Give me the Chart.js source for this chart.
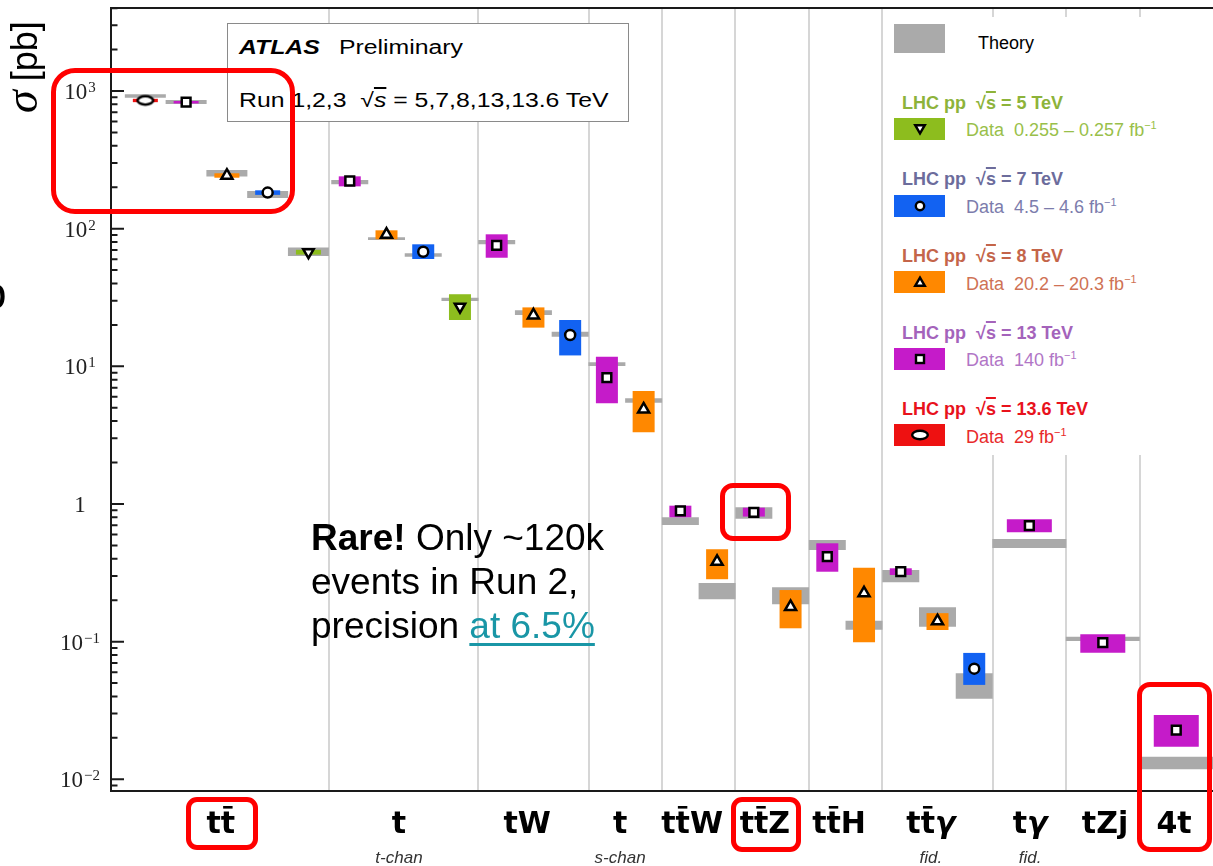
<!DOCTYPE html>
<html>
<head>
<meta charset="utf-8">
<title>ATLAS top-quark cross sections</title>
<script src="https://cdn.jsdelivr.net/npm/chart.js@4.4.1/dist/chart.umd.min.js"></script>
<style>
html,body{margin:0;padding:0;background:#fff;}
body{width:1213px;height:866px;overflow:hidden;position:relative;font-family:"Liberation Sans",Arial,sans-serif;color:#000;}
#chart{position:absolute;left:0;top:0;}
.a{position:absolute;white-space:nowrap;}
.ov{text-decoration:overline;text-decoration-thickness:1.5px;}
.atlasbox{left:227px;top:23px;width:402px;height:99px;box-sizing:border-box;border:1.5px solid #8a8a8a;background:#fff;}
.atl{font-size:20px;line-height:20px;transform:scaleX(1.24);transform-origin:0 0;}
.legend{left:883px;top:17px;width:330px;height:438px;background:#fff;}
.sw{width:51px;height:22px;}
.lh{font-size:18px;line-height:18px;font-weight:bold;}
.ld{font-size:18px;line-height:18px;}
.ld sup{font-size:11px;vertical-align:7px;line-height:0;}
.rbox{border:5px solid #f00;box-sizing:border-box;}
.note{left:311px;top:516px;font-size:37px;line-height:44px;}
.teal{color:#1996a6;text-decoration:underline;text-decoration-thickness:3px;text-underline-offset:5px;}
</style>
</head>
<body>
<canvas id="chart" width="1213" height="866"></canvas>

<!-- y axis title -->
<div class="a" style="left:3px;top:113px;transform:rotate(-90deg);transform-origin:0 0;font-size:36px;line-height:44px;"><span style="font-family:'Liberation Serif',serif;font-style:italic;font-size:46px;line-height:0;">σ</span><span style="margin-left:9px;">[pb]</span></div>
<div class="a" style="left:-19px;top:270px;font-size:46px;line-height:46px;">o</div>

<!-- ATLAS label box -->
<div class="a atlasbox"></div>
<div class="a atl" style="left:239px;top:37px;"><b><i>ATLAS</i></b></div>
<div class="a atl" style="left:339px;top:37px;">Preliminary</div>
<div class="a atl" style="left:239px;top:90px;">Run 1,2,3&nbsp;&nbsp;√<i class="ov">s</i> = 5,7,8,13,13.6 TeV</div>

<!-- legend -->
<div class="a legend"></div>
<div class="a" style="left:894px;top:24px;width:51px;height:29px;background:#aaaaaa;"></div>
<div class="a ld" style="left:978px;top:34px;">Theory</div>

<div class="a lh" style="left:902px;top:94px;color:#8db33a;">LHC pp&nbsp;&nbsp;√<span class="ov">s</span> = 5 TeV</div>
<div class="a sw" style="left:894px;top:118px;background:#8dbd1e;"></div>
<svg class="a" style="left:913px;top:122px" width="14" height="14"><polygon points="2.2,3.2 11.8,3.2 7,11.4" fill="#fff" stroke="#000" stroke-width="2.4"/></svg>
<div class="a ld" style="left:966px;top:121px;color:#99bf4a;">Data&nbsp;&nbsp;0.255 – 0.257 fb<sup>−1</sup></div>

<div class="a lh" style="left:902px;top:170px;color:#6c6c9c;">LHC pp&nbsp;&nbsp;√<span class="ov">s</span> = 7 TeV</div>
<div class="a sw" style="left:894px;top:195px;background:#1262f2;"></div>
<svg class="a" style="left:913px;top:199px" width="14" height="14"><circle cx="7" cy="7" r="4.2" fill="#fff" stroke="#000" stroke-width="2.4"/></svg>
<div class="a ld" style="left:966px;top:198px;color:#7c7cac;">Data&nbsp;&nbsp;4.5 – 4.6 fb<sup>−1</sup></div>

<div class="a lh" style="left:902px;top:247px;color:#c4654a;">LHC pp&nbsp;&nbsp;√<span class="ov">s</span> = 8 TeV</div>
<div class="a sw" style="left:894px;top:271px;background:#ff8800;"></div>
<svg class="a" style="left:913px;top:275px" width="14" height="14"><polygon points="7,2.6 11.8,10.8 2.2,10.8" fill="#fff" stroke="#000" stroke-width="2.4"/></svg>
<div class="a ld" style="left:966px;top:275px;color:#cf7255;">Data&nbsp;&nbsp;20.2 – 20.3 fb<sup>−1</sup></div>

<div class="a lh" style="left:902px;top:324px;color:#a463bb;">LHC pp&nbsp;&nbsp;√<span class="ov">s</span> = 13 TeV</div>
<div class="a sw" style="left:894px;top:348px;background:#c51bc9;"></div>
<svg class="a" style="left:913px;top:352px" width="14" height="14"><rect x="3" y="3" width="8" height="8" fill="#fff" stroke="#000" stroke-width="2.4"/></svg>
<div class="a ld" style="left:966px;top:351px;color:#b176c6;">Data&nbsp;&nbsp;140 fb<sup>−1</sup></div>

<div class="a lh" style="left:902px;top:400px;color:#e8121c;">LHC pp&nbsp;&nbsp;√<span class="ov">s</span> = 13.6 TeV</div>
<div class="a sw" style="left:894px;top:424px;background:#ee1111;"></div>
<svg class="a" style="left:909px;top:428px" width="22" height="14"><ellipse cx="11" cy="7" rx="7.8" ry="4.3" fill="#fff" stroke="#000" stroke-width="2.4"/></svg>
<div class="a ld" style="left:966px;top:428px;color:#e82a2a;">Data&nbsp;&nbsp;29 fb<sup>−1</sup></div>

<!-- annotation text -->
<div class="a note"><b>Rare!</b> Only ~120k<br>events in Run 2,<br>precision <span class="teal">at 6.5%</span></div>

<!-- red highlight boxes -->
<div class="a rbox" style="left:51px;top:68px;width:244px;height:146px;border-radius:24px;"></div>
<div class="a rbox" style="left:720px;top:483px;width:71px;height:58px;border-radius:13px;"></div>
<div class="a rbox" style="left:186px;top:797px;width:72px;height:53px;border-radius:11px;"></div>
<div class="a rbox" style="left:731px;top:797px;width:70px;height:55px;border-radius:11px;"></div>
<div class="a rbox" style="left:1137px;top:682px;width:75px;height:170px;border-radius:13px;"></div>

<script>
// ---------------- data ----------------
const groupNames = ['tt\u0304', 't', 'tW', 't', 'tt\u0304W', 'tt\u0304Z', 'tt\u0304H', 'tt\u0304γ', 'tγ', 'tZj', '4t'];
const groupSubs  = ['', 't-chan', '', 's-chan', '', '', '', 'fid.', 'fid.', '', ''];
const groupEdges = [0, 5.93, 10, 13, 15, 17, 19, 21, 24, 26, 28, 30];
const groupLabelAt = [2.99, 7.84, 11.33, 13.86, 15.82, 17.8, 19.82, 22.32, 25.02, 27.06, 28.94];

const yTickVals  = [0.01, 0.1, 1, 10, 100, 1000];
const yTickBase  = ['10', '10', '1', '10', '10', '10'];
const yTickExp   = ['−2', '−1', '', '1', '2', '3'];
const yRange = [0.00822, 4010];

// 13.6 TeV
const pos136  = [0.935];
const val136  = [855];
const lo136   = [830];
const hi136   = [878];
const thLo136 = [894];
const thHi136 = [946];
// 13 TeV: tt, t-chan, tW, s-chan, ttW, ttZ, ttH, tty, ty, tZj, 4t
const pos13  = [2.045, 6.5, 10.5, 13.5, 15.5, 17.5, 19.5, 21.5, 25, 27, 29];
const val13  = [829, 222, 75.7, 8.27, 0.89, 0.87, 0.414, 0.322, 0.695, 0.0983, 0.0228];
const lo13   = [812, 203, 61.5, 5.39, 0.80, 0.81, 0.322, 0.305, 0.623, 0.0831, 0.01725];
const hi13   = [846, 240, 91.0, 11.75, 0.972, 0.94, 0.518, 0.341, 0.774, 0.113, 0.0293];
const thLo13 = [805, 210, 77.0, 10.06, 0.704, 0.782, 0.463, 0.270, 0.479, 0.101, 0.01182];
const thHi13 = [860, 226, 82.7, 10.7, 0.80, 0.946, 0.548, 0.332, 0.557, 0.1086, 0.01459];
// 8 TeV: tt, t-chan, tW, s-chan, ttW, ttZ, ttH, tty
const pos8  = [3.155, 7.5, 11.5, 14.5, 16.5, 18.5, 20.5, 22.5];
const val8  = [242.9, 90.7, 23.5, 4.87, 0.381, 0.179, 0.225, 0.141];
const lo8   = [234.5, 83.7, 19.1, 3.32, 0.284, 0.125, 0.099, 0.1215];
const hi8   = [252.6, 97.3, 26.8, 6.62, 0.469, 0.237, 0.344, 0.161];
const thLo8 = [239, 82.7, 23.6, 5.44, 0.203, 0.187, 0.122, 0.128];
const thHi8 = [267, 86.5, 25.5, 5.86, 0.267, 0.248, 0.142, 0.178];
// 7 TeV: tt, t-chan, tW, tty
const pos7  = [4.265, 8.5, 12.5, 23.5];
const val7  = [182.9, 68.0, 16.9, 0.0636];
const lo7   = [176, 60.2, 12.0, 0.0485];
const hi7   = [190, 77.0, 21.7, 0.0828];
const thLo7 = [167, 62.6, 16.4, 0.0385];
const thHi7 = [188, 66.2, 17.8, 0.0589];
// 5 TeV: tt, t-chan
const pos5  = [5.375, 9.5];
const val5  = [67.5, 27.1];
const lo5   = [64.8, 21.7];
const hi5   = [70.2, 33.4];
const thLo5 = [63.4, 29.8];
const thHi5 = [73.0, 31.5];

// ---------------- styles ----------------
function ellipseMarker() {
  const c = document.createElement('canvas');
  c.width = 22; c.height = 14;
  const g = c.getContext('2d');
  g.beginPath(); g.ellipse(11, 7, 7.8, 4.2, 0, 0, Math.PI * 2);
  g.fillStyle = '#fff'; g.fill();
  g.lineWidth = 2.5; g.strokeStyle = '#000'; g.stroke();
  return c;
}
const seriesColors = ['#ee1111', '#c51bc9', '#ff8800', '#1262f2', '#8dbd1e'];
const markerStyles = [ellipseMarker(), 'rect', 'triangle', 'circle', 'triangle'];
const markerRadius = [7, 6.2, 6.4, 5, 6];
const markerRot    = [0, 0, 0, 0, 180];
const theoryPx = {tt: 41, std: 37, wide: 74};
const dataPx   = {tt: 25, std: 22, wide: 45};

function slotClass(x) {
  if (x < groupEdges[1]) return 'tt';
  if (x >= groupEdges[8]) return 'wide';
  return 'std';
}

const series = [
  {pos: pos136, val: val136, lo: lo136, hi: hi136, tl: thLo136, th: thHi136},
  {pos: pos13,  val: val13,  lo: lo13,  hi: hi13,  tl: thLo13,  th: thHi13},
  {pos: pos8,   val: val8,   lo: lo8,   hi: hi8,   tl: thLo8,   th: thHi8},
  {pos: pos7,   val: val7,   lo: lo7,   hi: hi7,   tl: thLo7,   th: thHi7},
  {pos: pos5,   val: val5,   lo: lo5,   hi: hi5,   tl: thLo5,   th: thHi5}
];

const datasets = [];
const theoryByClass = {tt: [], std: [], wide: []};
series.forEach((s, i) => {
  const byClass = {tt: [], std: [], wide: []};
  s.pos.forEach((x, j) => {
    const c = slotClass(x);
    byClass[c].push({x: x, y: [s.lo[j], s.hi[j]]});
    theoryByClass[c].push({x: x, y: [s.tl[j], s.th[j]]});
  });
  ['tt', 'std', 'wide'].forEach(c => {
    if (byClass[c].length) datasets.push({
      type: 'bar', data: byClass[c], backgroundColor: seriesColors[i],
      barThickness: dataPx[c], grouped: false, order: 1,
      borderWidth: 0, inflateAmount: 0
    });
  });
  datasets.push({
    type: 'line', showLine: false, order: 0,
    data: s.pos.map((x, j) => ({x: x, y: s.val[j]})),
    pointStyle: markerStyles[i], pointRadius: markerRadius[i], pointRotation: markerRot[i],
    pointBackgroundColor: '#fff', pointBorderColor: '#000', pointBorderWidth: 2.5
  });
});
['tt', 'std', 'wide'].forEach(c => {
  datasets.push({
    type: 'bar', data: theoryByClass[c], backgroundColor: '#aaaaaa',
    barThickness: theoryPx[c], grouped: false, order: 2,
    borderWidth: 0, inflateAmount: 0
  });
});

// ---------------- plugins ----------------
const framePlugin = {
  id: 'frame',
  afterDraw(chart) {
    const ctx = chart.ctx, a = chart.chartArea, y = chart.scales.y;
    ctx.save();
    ctx.strokeStyle = '#1a1a1a'; ctx.lineWidth = 2;
    ctx.beginPath();
    ctx.moveTo(a.left, a.top); ctx.lineTo(a.right + 2, a.top);
    ctx.moveTo(a.left, a.top - 1); ctx.lineTo(a.left, a.bottom + 1);
    ctx.moveTo(a.left, a.bottom); ctx.lineTo(a.right + 2, a.bottom);
    ctx.stroke();
    ctx.beginPath();
    for (let e = -3; e <= 4; e++) {
      for (let k = 1; k <= 9; k++) {
        const v = k * Math.pow(10, e);
        if (v < y.min || v > y.max) continue;
        const py = y.getPixelForValue(v);
        const len = k === 1 ? 13 : 6.5;
        ctx.moveTo(a.left, py); ctx.lineTo(a.left + len, py);
      }
    }
    ctx.stroke();
    // y tick labels: base + superscript exponent, centred at x = 80
    ctx.fillStyle = '#222';
    ctx.textBaseline = 'alphabetic';
    ctx.textAlign = 'left';
    const fBase = '23px "Liberation Serif", serif', fExp = '15px "Liberation Serif", serif';
    yTickVals.forEach((v, i) => {
      const py = y.getPixelForValue(v);
      ctx.font = fBase; const wb = ctx.measureText(yTickBase[i]).width;
      ctx.font = fExp;  const we = yTickExp[i] ? ctx.measureText(yTickExp[i]).width + 1 : 0;
      const x0 = 80 - (wb + we) / 2;
      ctx.font = fBase; ctx.fillText(yTickBase[i], x0, py + 8);
      if (we) { ctx.font = fExp; ctx.fillText(yTickExp[i], x0 + wb + 1, py + 1); }
    });
    ctx.restore();
  }
};

const catPlugin = {
  id: 'catLabels',
  afterDraw(chart) {
    const ctx = chart.ctx, xs = chart.scales.x;
    const base = 833;
    ctx.save();
    ctx.textBaseline = 'alphabetic';
    groupNames.forEach((name, i) => {
      const cx = xs.getPixelForValue(groupLabelAt[i]);
      const parts = [];
      for (const ch of name) {
        if (ch === '\u0304') { parts[parts.length - 1].bar = true; continue; }
        parts.push({ch: ch, bar: false,
          font: ch === 'γ' ? 'oblique bold 30px "DejaVu Sans"' : 'bold 30px "DejaVu Sans"'});
      }
      let w = 0;
      parts.forEach(p => { ctx.font = p.font; p.w = ctx.measureText(p.ch).width; w += p.w; });
      let x = cx - w / 2;
      ctx.fillStyle = '#000';
      ctx.textAlign = 'left';
      parts.forEach(p => {
        ctx.font = p.font;
        ctx.fillText(p.ch, x, base);
        if (p.bar) ctx.fillRect(x + p.w * 0.16, base - 27, p.w * 0.66, 2.6);
        x += p.w;
      });
      if (groupSubs[i]) {
        ctx.font = 'italic 17px "Liberation Sans"';
        ctx.fillStyle = '#333';
        ctx.textAlign = 'center';
        ctx.fillText(groupSubs[i], cx, 863);
      }
    });
    ctx.restore();
  }
};

// ---------------- chart ----------------
new Chart(document.getElementById('chart'), {
  type: 'bar',
  data: {datasets: datasets},
  options: {
    responsive: false, animation: false, devicePixelRatio: 1, events: [],
    layout: {autoPadding: false, padding: {top: 8, right: 0, left: 0, bottom: 0}},
    plugins: {legend: {display: false}, tooltip: {enabled: false}},
    scales: {
      x: {
        type: 'linear', min: groupEdges[0], max: groupEdges[groupEdges.length - 1], offset: false,
        afterBuildTicks(s) { s.ticks = groupEdges.slice(1, -1).map(v => ({value: v})); },
        afterFit(s) { s.height = 75; s.paddingLeft = 0; s.paddingRight = 0; s.paddingTop = 0; s.paddingBottom = 0; },
        ticks: {display: false},
        grid: {color: '#d6d6d6', lineWidth: 2, drawTicks: false, offset: false},
        border: {display: false}
      },
      y: {
        type: 'logarithmic', min: yRange[0], max: yRange[1],
        afterBuildTicks(s) { s.ticks = yTickVals.map(v => ({value: v, major: true})); },
        afterFit(s) { s.width = 111; s.paddingTop = 0; s.paddingBottom = 0; s.paddingLeft = 0; s.paddingRight = 0; },
        ticks: {display: false},
        grid: {display: false, drawTicks: false},
        border: {display: false}
      }
    }
  },
  plugins: [framePlugin, catPlugin]
});
</script>
</body>
</html>
